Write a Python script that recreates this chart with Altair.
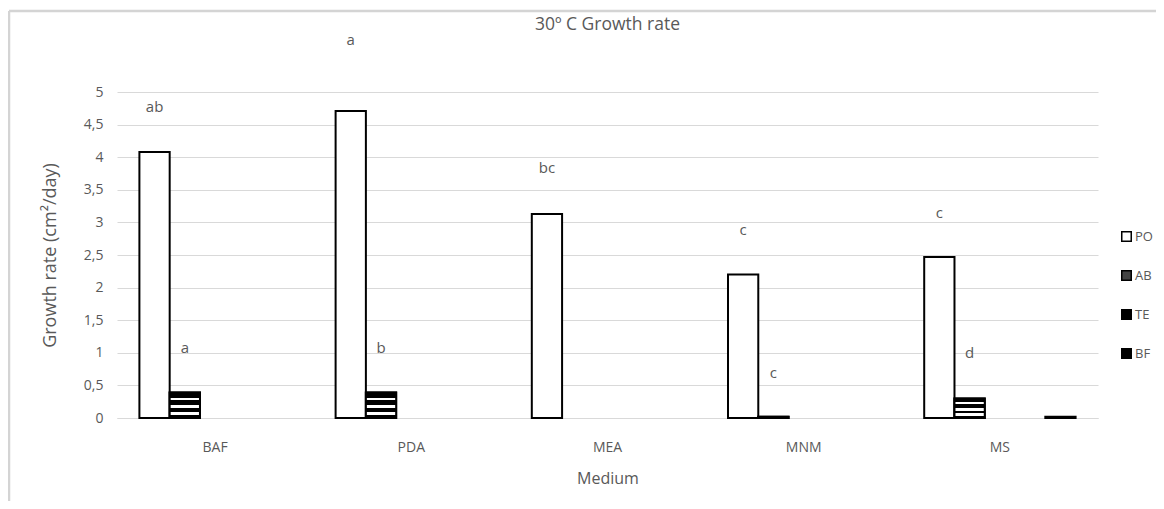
import altair as alt
import pandas as pd

categories = ["BAF", "PDA", "MEA", "MNM", "MS"]
series = ["PO", "AB", "TE", "BF"]
slots = ["PO", "AB", "TE", "BF", "BF2"]
po = [4.08, 4.71, 3.13, 2.20, 2.47]
ab = [0.39, 0.39, 0.0, 0.02, 0.30]
te = [0.0, 0.0, 0.0, 0.0, 0.0]
bf = [0.0, 0.0, 0.0, 0.0, 0.02]

letter_cat = ["BAF", "BAF", "PDA", "PDA", "MEA", "MNM", "MNM", "MS", "MS"]
letter_slot = ["PO", "AB", "PO", "AB", "PO", "PO", "AB", "PO", "AB"]
letter_y = [4.77, 1.07, 5.80, 1.07, 3.83, 2.88, 0.69, 3.14, 1.00]
letter_txt = ["ab", "a", "a", "b", "bc", "c", "c", "c", "d"]

title_text = "30º C Growth rate"

rows = []
for i, c in enumerate(categories):
    rows.append({"cat": c, "series": "PO", "slot": "PO", "v": po[i]})
    rows.append({"cat": c, "series": "AB", "slot": "AB", "v": ab[i]})
    rows.append({"cat": c, "series": "TE", "slot": "TE", "v": te[i]})
    rows.append({"cat": c, "series": "BF", "slot": "BF2", "v": bf[i]})
bars = pd.DataFrame(rows)
letters = pd.DataFrame({"cat": letter_cat, "slot": letter_slot, "v": letter_y, "t": letter_txt})

GREY = "#595959"
FONT = "Open Sans"

xenc = alt.X("cat:N", sort=categories, title="Medium",
             scale=alt.Scale(paddingInner=0, paddingOuter=0),
             axis=alt.Axis(labelAngle=0, labelPadding=22, titlePadding=16, ticks=False,
                           domainColor="#d9d9d9", labelColor=GREY, titleColor=GREY,
                           labelFontSize=14, titleFontSize=16, labelFont=FONT, titleFont=FONT,
                           titleFontWeight="normal"))
xoff = alt.XOffset("slot:N", scale=alt.Scale(domain=slots, paddingOuter=0.74, paddingInner=0))
yenc = alt.Y("v:Q", scale=alt.Scale(domain=[0, 5]), title="Growth rate (cm²/day)",
             axis=alt.Axis(values=[0, 0.5, 1, 1.5, 2, 2.5, 3, 3.5, 4, 4.5, 5],
                           labelExpr="replace(format(datum.value, '.1~f'), '.', ',')",
                           domain=False, ticks=False, gridColor="#d9d9d9", labelPadding=14,
                           titlePadding=24, labelColor=GREY, titleColor=GREY, labelFontSize=14,
                           titleFontSize=18, labelFont=FONT, titleFont=FONT,
                           titleFontWeight="normal"))

base = alt.Chart(bars).transform_filter(alt.datum.v > 0).mark_bar(stroke="black", strokeWidth=2).encode(
    x=xenc, xOffset=xoff, y=yenc,
    color=alt.Color("series:N", scale=alt.Scale(domain=series, range=["white", "#444444", "black", "black"]),
                    legend=alt.Legend(title=None, orient="none", legendX=1003, legendY=138,
                                      symbolType="square", symbolSize=90, symbolStrokeColor="black",
                                      symbolStrokeWidth=1.5, rowPadding=22, labelFontSize=13,
                                      labelColor=GREY, labelFont=FONT, labelOffset=2)),
)

stripes = {
    "gradient": "linear", "x1": 0, "x2": 0, "y1": 0, "y2": 1,
    "stops": [
        {"offset": 0.0, "color": "black"}, {"offset": 0.2, "color": "black"},
        {"offset": 0.2, "color": "white"}, {"offset": 0.3, "color": "white"},
        {"offset": 0.3, "color": "black"}, {"offset": 0.5, "color": "black"},
        {"offset": 0.5, "color": "white"}, {"offset": 0.62, "color": "white"},
        {"offset": 0.62, "color": "black"}, {"offset": 0.76, "color": "black"},
        {"offset": 0.76, "color": "white"}, {"offset": 0.88, "color": "white"},
        {"offset": 0.88, "color": "black"}, {"offset": 1.0, "color": "black"},
    ],
}
ab_layer = alt.Chart(bars).transform_filter((alt.datum.series == "AB") & (alt.datum.v > 0)).mark_bar(
    fill=stripes, stroke="black", strokeWidth=2).encode(x=xenc, xOffset=xoff, y=yenc)

text = alt.Chart(letters).mark_text(fontSize=15, color=GREY, font=FONT, baseline="middle").encode(
    x=xenc, xOffset=xoff, y=yenc, text="t:N")

one = pd.DataFrame({"t": [title_text]})
title_mark = alt.Chart(one).mark_text(fontSize=17.5, color=GREY, font=FONT, baseline="middle",
                                      align="center").encode(
    x=alt.value(490.5), y=alt.value(-67), text="t:N")

top_border = alt.Chart(one).mark_rule(color="#d4d4d4", strokeWidth=2.5).encode(
    x=alt.value(-108), x2=alt.value(1060), y=alt.value(-81))
left_border = alt.Chart(one).mark_rule(color="#d4d4d4", strokeWidth=2.5).encode(
    x=alt.value(-108), y=alt.value(-81), y2=alt.value(420))

chart = alt.layer(top_border, left_border, base, ab_layer, text, title_mark).properties(
    width=981, height=326,
    autosize=alt.AutoSizeParams(type="none"),
    padding={"left": 109, "top": 84, "right": 58, "bottom": 83},
).configure_view(stroke=None)

chart.save("out.html", embed_options={"renderer": "svg", "actions": False})
